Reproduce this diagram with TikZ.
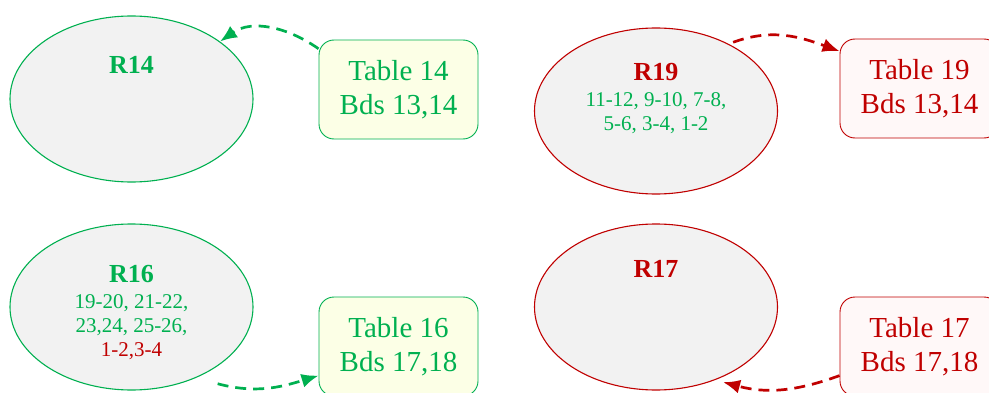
\documentclass[tikz,border=0pt]{standalone}
\usepackage{fontspec}
\setmainfont{Liberation Serif}
\usepackage{tikz}
\usetikzlibrary{shapes.geometric,arrows.meta,positioning}
\definecolor{grn}{HTML}{00B050}
\definecolor{rd}{HTML}{C00000}
\definecolor{shade}{HTML}{F2F2F2}
\definecolor{lemon}{HTML}{FCFFE6}
\definecolor{blush}{HTML}{FFF8F8}

\tikzset{
  reg/.style={draw, ellipse, fill=shade, line width=1.1pt, minimum width=243pt, minimum height=166pt, inner sep=0pt},
  tbl/.style={draw, rounded corners=15pt, line width=0.9pt, minimum width=159pt, minimum height=99pt, inner sep=0pt, align=center, font=\fontsize{29}{34}\selectfont},
  rtitle/.style={anchor=base, font=\fontsize{26}{30}\selectfont\bfseries},
  rbody/.style={anchor=base, align=center, font=\fontsize{21}{24}\selectfont},
  link/.style={line width=2.7pt, dash pattern=on 11pt off 7pt, -{Latex[length=17pt,width=14pt]}}
}

\begin{document}
\begin{tikzpicture}[x=1pt,y=1pt]
\useasboundingbox (0,0) rectangle (989,392);
% regions
\node[reg, draw=grn] (r14) at (131.5,293) {};
\node[reg, draw=rd] (r19) at (656,281) {};
\node[reg, draw=grn] (r16) at (131.5,85) {};
\node[reg, draw=rd] (r17) at (656,85) {};
% region texts (base of a multi-line node is its last line)
\node[rtitle, text=grn] (r14t) at ([yshift=26pt]r14.center) {R14};
\node[rtitle, text=rd] (r19t) at ([yshift=31pt]r19.center) {R19};
\node[rbody, text=grn] (r19b) at ([yshift=-50pt]r19t.base) {11-12, 9-10, 7-8,\\5-6, 3-4, 1-2};
\node[rtitle, text=grn] (r16t) at ([yshift=25pt]r16.center) {R16};
\node[rbody, text=grn] (r16b) at ([yshift=-74pt]r16t.base) {19-20, 21-22,\\23,24, 25-26,\\\textcolor{rd}{1-2,3-4}};
\node[rtitle, text=rd] (r17t) at ([yshift=30pt]r17.center) {R17};
% tables
\node[tbl, draw=grn, fill=lemon, text=grn] (t14) at (398.5,302.5) {Table 14\\Bds 13,14};
\node[tbl, draw=rd, fill=blush, text=rd] (t19) at (919.5,303.5) {Table 19\\Bds 13,14};
\node[tbl, draw=grn, fill=lemon, text=grn] (t16) at (398.5,45.5) {Table 16\\Bds 17,18};
\node[tbl, draw=rd, fill=blush, text=rd] (t17) at (919.5,45.5) {Table 17\\Bds 17,18};
% links
\draw[link, grn] (t14.153) to[out=145, in=35] (r14.33);
\draw[link, rd] ([yshift=4pt]r19.40) to[out=20, in=160] (t19.155);
\draw[link, grn] ([shift={(9pt,-12pt)}]r16.-40) to[out=-15, in=197] (t16.200);
\draw[link, rd] (t17.200) to[out=200, in=-15] ([shift={(3pt,-4pt)}]r17.-48);
\end{tikzpicture}
\end{document}
